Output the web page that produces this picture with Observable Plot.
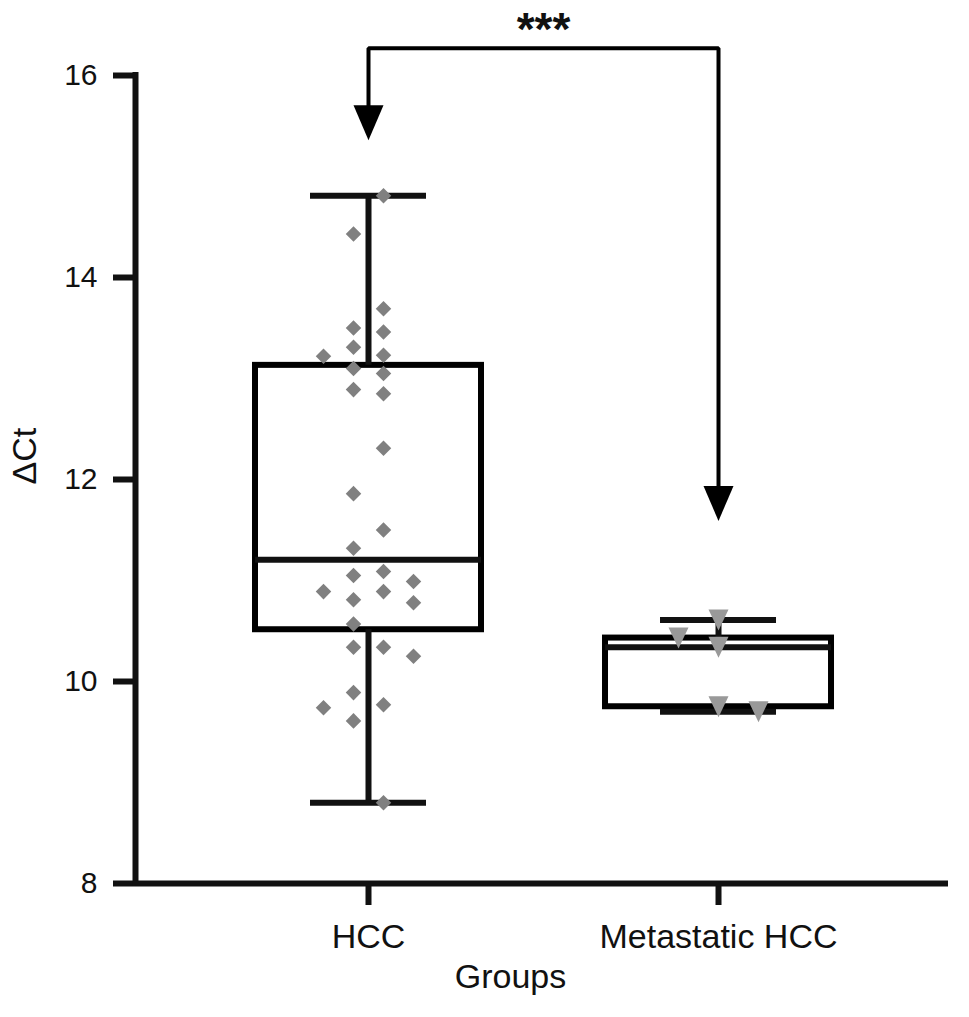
<!DOCTYPE html>
<html><head><meta charset="utf-8">
<script src="https://cdn.jsdelivr.net/npm/d3@7"></script>
<script src="https://cdn.jsdelivr.net/npm/@observablehq/plot@0.6"></script>
<style>body{margin:0;background:#fff}</style>
</head><body><div id="chart"></div>
<script>
// ---- data ----
const groups = ["HCC", "Metastatic HCC"];
const hccValues = [14.81, 14.43, 13.69, 13.50, 13.46, 13.31, 13.23, 13.22, 13.10, 13.05, 12.89, 12.85,
  12.31, 11.86, 11.50, 11.32, 11.09, 11.05, 10.99, 10.89, 10.89, 10.81, 10.78, 10.57, 10.34, 10.34,
  10.25, 9.89, 9.77, 9.74, 9.61, 8.80];
const metastaticValues = [10.61, 10.43, 10.34, 9.75, 9.70];
const yTicks = [8, 10, 12, 14, 16];
const yLabel = "ΔCt";
const xLabel = "Groups";
const significance = "***";
const bracketTop = 16.27;
const arrowTips = [15.36, 11.59];

// ---- layout ----
const W = 969, H = 1017, mL = 135, mR = 21, mT = 75, mB = 134;
const xDomain = [-0.6657, 1.6571];
const yDomain = [8, 16];
const pxX = (W - mL - mR) / (xDomain[1] - xDomain[0]);
const pxY = (H - mT - mB) / (yDomain[1] - yDomain[0]);
const boxHalf = 113 / pxX, capHalf = 58 / pxX;

const series = [hccValues, metastaticValues];
const stats = series.map((vals, i) => ({
  i,
  min: d3.min(vals), max: d3.max(vals),
  q1: d3.quantile(vals, 0.25), median: d3.median(vals), q3: d3.quantile(vals, 0.75)
}));

// simple column scatter layout (GraphPad-like)
function columnLayout(vals, i, even, colPx, gapPx, prefer) {
  const cands = even ? [0.5, -0.5, 1.5, -1.5, 2.5, -2.5, 3.5, -3.5] : [0, 1, -1, 2, -2, 3, -3];
  const placed = new Map();
  let left = 0, right = 0;
  const gap = gapPx / pxY;
  const cnt = c => c > 0 ? right : c < 0 ? left : 0;
  return d3.sort(vals, (a, b) => b - a).map(v => {
    const free = cands.filter(c => !(placed.get(c) || []).some(u => Math.abs(u - v) < gap));
    free.sort((a, b) => (Math.abs(a) - Math.abs(b)) || (cnt(a) - cnt(b)) || prefer * (b - a));
    const c = free[0];
    if (!placed.has(c)) placed.set(c, []);
    placed.get(c).push(v);
    if (c > 0) right++; else if (c < 0) left++;
    return {x: i + c * colPx / pxX, y: v};
  });
}
const hccPts = columnLayout(hccValues, 0, true, 30, 17, 1);
const metPts = columnLayout(metastaticValues, 1, false, 40, 21, -1);

const triDown = {draw(ctx, size) {
  const r = Math.sqrt(size / Math.PI), h = r * 1.05;
  ctx.moveTo(-r, -h); ctx.lineTo(r, -h); ctx.lineTo(0, h); ctx.closePath();
}};
const arrowHead = {draw(ctx, size) {
  const r = Math.sqrt(size / Math.PI);
  ctx.moveTo(-r, -r * 2.33); ctx.lineTo(r, -r * 2.33); ctx.lineTo(0, 0); ctx.closePath();
}};

const headUnits = 20 / pxY;
const bracket = [
  {x: 0, y: arrowTips[0] + headUnits}, {x: 0, y: bracketTop},
  {x: 1, y: bracketTop}, {x: 1, y: arrowTips[1] + headUnits}
];
const tips = arrowTips.map((y, i) => ({x: i, y}));

const chart = Plot.plot({
  width: W, height: H,
  marginLeft: mL, marginRight: mR, marginTop: mT, marginBottom: mB,
  x: {domain: xDomain},
  y: {domain: yDomain},
  style: {fontFamily: "'Liberation Sans', Arial, sans-serif", color: "#111", background: "white", overflow: "visible"},
  marks: [
    Plot.axisY({ticks: yTicks, tickSize: 22, tickPadding: 16, strokeWidth: 6, fontSize: 30, label: null, tickFormat: d => d}),
    Plot.axisX({ticks: [0, 1], tickSize: 22, tickPadding: 18, strokeWidth: 6, fontSize: 34, label: null, tickFormat: i => groups[i]}),
    Plot.ruleX([xDomain[0]], {y1: yDomain[0], y2: yDomain[1], strokeWidth: 6, strokeLinecap: "square"}),
    Plot.ruleY([yDomain[0]], {strokeWidth: 6}),
    Plot.rect(stats, {x1: d => d.i - boxHalf, x2: d => d.i + boxHalf, y1: "q1", y2: "q3", fill: "none", stroke: "black", strokeWidth: 6}),
    Plot.ruleX(stats, {x: "i", y1: "q3", y2: "max", strokeWidth: 6}),
    Plot.ruleX(stats, {x: "i", y1: "min", y2: "q1", strokeWidth: 6}),
    Plot.ruleY(stats, {y: "max", x1: d => d.i - capHalf, x2: d => d.i + capHalf, strokeWidth: 6}),
    Plot.ruleY(stats, {y: "min", x1: d => d.i - capHalf, x2: d => d.i + capHalf, strokeWidth: 6}),
    Plot.ruleY(stats, {y: "median", x1: d => d.i - boxHalf, x2: d => d.i + boxHalf, strokeWidth: 6}),
    Plot.dot(hccPts, {x: "x", y: "y", symbol: "diamond2", r: 7, fill: "#808080"}),
    Plot.dot(metPts, {x: "x", y: "y", symbol: triDown, r: 10, fill: "#999999"}),
    Plot.line(bracket, {x: "x", y: "y", stroke: "black", strokeWidth: 4, strokeLinejoin: "miter"}),
    Plot.dot(tips, {x: "x", y: "y", symbol: arrowHead, r: 15, fill: "black"}),
    Plot.text([significance], {text: d => d, x: 0.5, y: bracketTop, dy: -18, fontSize: 46, fontWeight: "bold"}),
    Plot.text([yLabel], {text: d => d, frameAnchor: "left", dx: -110, dy: 5, rotate: -90, fontSize: 34}),
    Plot.text([xLabel], {text: d => d, frameAnchor: "bottom", dx: -31.5, dy: 104, fontSize: 34})
  ]
});
document.getElementById("chart").append(chart);
</script>
</body></html>
